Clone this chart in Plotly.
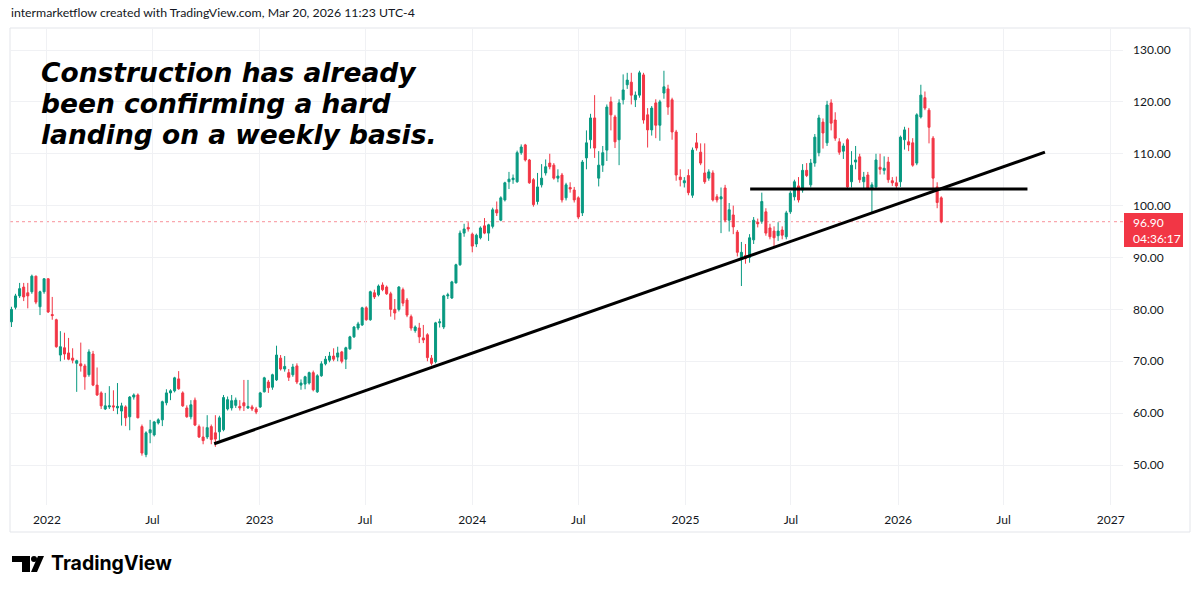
import pandas as pd
import plotly.graph_objects as go

# ---------------- data (weekly candles) ----------------
start_week = "2021-11-01"
n_weeks = 229
opens = [77.6,80.4,82.6,84.3,83.2,83.4,86.4,80.5,83.4,85.9,79.0,78.0,71.2,72.6,71.6,70.6,69.6,69.5,69.1,67.4,
         71.4,65.4,63.9,60.8,61.2,61.4,61.0,60.4,61.2,59.3,63.1,63.5,57.4,52.0,56.2,55.8,58.1,58.7,62.0,63.9,
         64.3,66.6,63.9,61.0,59.3,62.5,57.4,55.4,55.4,57.4,56.2,56.4,56.8,60.8,61.0,61.5,61.3,62.0,61.0,61.2,
         60.8,61.2,64.1,66.0,65.0,66.4,70.6,68.5,67.8,67.4,69.1,65.4,65.6,65.8,67.8,64.1,67.2,69.5,70.2,71.0,
         70.8,71.8,70.4,72.4,74.7,76.4,77.0,80.3,78.0,83.2,82.8,84.7,84.3,83.0,80.0,80.0,83.8,81.8,78.6,75.9,
         76.4,74.5,75.1,70.6,69.9,77.4,76.6,82.6,82.2,85.1,88.6,94.7,95.8,94.5,92.6,93.8,96.1,94.7,96.0,99.2,
         97.2,101.1,104.6,105.0,104.6,110.2,111.7,108.8,105.0,100.8,104.0,106.3,108.2,107.8,105.3,105.9,101.5,103.5,103.0,101.5,
         98.6,109.2,112.7,116.9,105.3,107.8,110.7,120.0,117.1,112.7,120.4,123.3,123.8,120.4,121.3,125.2,117.5,114.6,119.8,115.5,
         121.7,122.5,120.4,114.2,105.5,104.4,105.8,102.0,112.1,110.3,106.3,105.3,106.3,101.7,101.3,103.4,97.2,98.2,94.9,89.6,
         90.4,90.0,93.4,96.8,97.0,98.8,95.7,95.1,94.2,95.3,94.0,98.8,101.7,103.8,103.0,106.8,104.0,108.2,110.2,116.1,
         112.1,119.8,116.5,112.3,110.5,112.7,104.6,108.4,109.4,104.6,105.9,103.4,103.6,107.4,106.8,108.4,104.8,104.4,104.6,112.7,
         112.3,112.1,108.2,117.1,120.8,118.4,113.0,103.6,101.5]
highs = [80.5,83.0,85.1,85.1,85.1,86.7,86.5,83.6,86.0,86.0,82.4,78.2,75.8,75.5,74.5,72.5,70.3,73.6,69.5,72.3,
         72.0,68.8,64.2,63.9,65.2,64.4,65.8,62.0,61.5,63.3,63.8,63.8,57.8,56.5,58.7,58.5,59.0,62.4,64.6,64.6,
         67.0,68.1,64.2,61.5,62.5,63.0,57.8,57.4,59.6,57.8,59.6,59.5,63.5,63.2,63.5,63.0,62.5,66.4,66.4,61.6,
         61.2,64.1,67.0,66.4,67.6,73.0,71.2,71.0,68.5,69.5,69.6,66.5,67.2,68.0,68.2,67.5,70.0,71.0,71.8,72.5,
         72.8,72.0,72.8,74.9,76.8,77.6,80.5,80.6,83.6,83.8,84.8,85.2,84.6,83.4,82.0,84.5,84.2,82.2,79.0,76.9,
         77.4,77.0,75.4,71.2,77.6,78.2,82.8,83.2,85.5,88.8,95.2,96.5,96.8,94.8,94.6,96.0,97.6,96.5,99.6,100.8,
         101.8,104.6,106.5,106.0,110.6,111.8,111.9,109.0,105.3,106.3,108.0,108.9,110.0,108.2,107.0,106.3,104.4,104.5,103.6,101.8,
         108.8,114.5,117.7,121.3,110.5,111.5,119.5,121.0,117.5,120.5,125.3,125.6,125.6,122.0,126.0,125.6,118.8,119.2,120.5,120.4,
         126.0,123.3,120.8,114.6,107.0,105.5,107.0,111.2,114.0,112.0,112.0,107.0,106.8,102.2,103.5,104.0,100.5,100.0,95.3,93.0,
         92.6,94.5,97.8,97.5,102.5,99.5,96.5,96.0,96.8,96.0,99.0,102.8,105.0,105.5,108.0,108.2,109.0,113.8,117.5,116.8,
         120.2,120.5,118.0,113.0,112.0,113.0,110.5,111.5,110.0,106.5,106.5,104.5,110.0,110.0,109.5,109.4,105.5,105.6,113.5,115.2,
         115.0,113.0,117.8,123.3,122.0,118.8,113.4,104.5,101.8]
lows = [76.6,80.0,82.2,81.6,80.2,83.0,81.0,78.9,83.0,79.3,78.0,72.6,70.0,70.3,70.2,69.6,64.1,68.0,64.5,67.0,
        65.2,63.3,60.8,60.6,60.8,60.4,59.8,57.6,57.5,56.7,62.6,59.0,51.8,51.5,54.2,55.5,57.8,57.5,61.5,62.5,
        64.0,64.5,61.2,59.1,58.8,57.5,55.2,54.0,55.0,54.0,53.5,54.8,56.5,60.5,60.5,61.0,60.5,60.4,60.8,60.4,
        59.8,61.0,64.0,63.9,64.5,66.2,68.2,68.0,66.2,67.0,65.6,64.5,64.6,65.5,64.2,63.9,67.0,69.2,69.8,70.0,
        70.0,69.6,68.5,72.2,74.5,76.0,76.8,77.8,77.8,82.0,82.5,83.5,82.8,78.6,78.0,79.6,80.6,78.5,75.9,75.5,
        73.5,73.5,70.0,69.2,69.6,76.5,76.2,82.0,82.0,85.0,88.4,94.0,95.0,91.0,92.0,93.5,94.5,93.2,95.6,98.0,
        97.0,100.8,103.2,104.2,104.4,109.8,108.5,104.2,99.8,100.2,103.5,105.8,107.0,105.0,104.5,100.6,101.0,102.5,100.6,97.4,
        98.0,107.0,111.0,109.2,103.7,106.5,108.6,114.5,111.1,107.8,119.5,122.5,119.5,119.0,120.8,115.8,111.2,113.5,113.0,112.5,
        120.6,117.5,112.7,104.8,103.7,103.5,102.0,101.5,110.6,107.8,104.2,104.8,100.8,100.6,94.7,96.8,95.0,94.5,90.2,84.5,
        88.8,89.0,92.6,95.8,96.5,94.2,93.5,92.0,93.2,93.5,93.5,98.4,101.0,100.6,102.5,105.5,103.5,107.5,109.5,111.0,
        111.5,114.5,112.5,109.8,109.0,103.2,103.5,107.0,104.4,103.2,103.0,98.6,103.2,106.0,106.0,104.4,103.8,103.2,103.6,110.8,
        110.5,107.5,107.8,116.8,118.4,112.0,103.0,99.5,96.6]
closes = [80.0,82.6,84.0,82.4,82.6,86.4,81.4,83.4,85.9,79.5,78.8,72.8,72.8,71.4,70.4,70.2,70.1,69.1,67.0,71.8,
          65.4,63.5,61.4,61.4,61.4,61.2,61.3,61.4,59.1,63.1,63.5,59.1,52.3,56.2,56.8,58.3,58.7,62.2,63.9,64.3,
          66.8,64.7,61.4,59.3,61.6,57.7,55.4,54.7,57.2,54.9,55.0,59.1,63.0,62.6,62.4,62.5,61.0,61.4,61.3,60.8,
          60.2,63.9,66.8,64.9,67.4,71.2,68.5,69.0,66.9,68.9,66.0,65.8,67.0,67.8,64.5,67.2,69.5,70.4,71.0,70.4,
          71.6,70.0,72.6,74.7,76.6,77.2,80.3,78.0,83.4,82.4,84.5,83.8,83.0,80.0,79.3,84.3,81.2,78.9,76.4,76.6,
          74.7,74.1,70.7,69.6,77.4,77.6,82.6,82.8,85.3,88.6,94.7,95.5,95.5,92.2,94.3,95.7,94.7,96.3,99.2,98.6,
          101.5,104.4,105.1,105.3,110.2,111.3,108.8,104.4,100.2,103.6,105.3,107.5,107.5,105.3,105.7,101.1,104.0,103.2,101.1,97.8,
          108.4,112.1,116.9,111.1,107.8,110.2,119.0,117.5,112.3,119.8,122.3,124.2,121.3,121.3,125.6,116.5,114.6,118.8,115.5,120.0,
          122.9,119.0,114.2,105.9,105.0,104.8,102.5,110.7,111.1,108.2,104.6,106.5,101.1,101.1,101.7,97.2,99.2,95.9,91.0,91.0,
          89.8,93.8,97.2,96.5,100.8,94.7,94.0,93.8,95.1,94.3,98.6,102.4,104.6,101.1,106.8,105.8,108.2,113.2,116.9,114.0,
          119.4,115.9,113.0,110.3,111.5,103.6,107.8,108.8,105.0,105.5,103.4,104.0,108.8,107.0,107.2,105.0,104.4,103.8,113.2,114.6,
          111.7,107.8,117.5,121.3,118.8,115.1,105.3,100.6,96.9]

# drawn lines (trend line and neckline)
trend_dates = ["2022-10-15", "2026-09-10"]
trend_prices = [54.1, 110.3]
neck_dates = ["2025-04-22", "2026-08-11"]
neck_price = 103.2
last_price_text = "96.90"
countdown_text = "04:36:17"

x_tickvals = ["2022-01-01", "2022-07-01", "2023-01-01", "2023-07-01", "2024-01-01", "2024-07-01",
              "2025-01-01", "2025-07-01", "2026-01-01", "2026-07-01", "2027-01-01"]
x_ticktext = ["2022", "Jul", "2023", "Jul", "2024", "Jul", "2025", "Jul", "2026", "Jul", "2027"]
y_tickvals = [50, 60, 70, 80, 90, 100, 110, 120, 130]

title_lines = ["Construction has already", "been confirming a hard", "landing on a weekly basis."]
header_text = "intermarketflow created with TradingView.com, Mar 20, 2026 11:23 UTC-4"

# ---------------- figure ----------------
dates = pd.date_range(start_week, periods=n_weeks, freq="7D")
highs = [max(h, o, c) for h, o, c in zip(highs, opens, closes)]
lows = [min(l, o, c) for l, o, c in zip(lows, opens, closes)]

UP = "#089981"
DOWN = "#F23645"
TXT = "#131722"
FONT = "Lato, 'Open Sans', sans-serif"

W, H = 1200, 593
L, R, T, B = 10, 77, 28, 88
PW, PH = W - L - R, H - T - B


def px(xp):
    return (xp - L) / PW


def py(yp):
    return (H - B - yp) / PH


fig = go.Figure()
fig.add_trace(go.Candlestick(
    x=dates, open=opens, high=highs, low=lows, close=closes,
    increasing=dict(line=dict(color=UP, width=1), fillcolor=UP),
    decreasing=dict(line=dict(color=DOWN, width=1), fillcolor=DOWN),
    whiskerwidth=0, showlegend=False, hoverinfo="skip",
))

shapes = []
# last price dotted line
shapes.append(dict(type="line", xref="paper", yref="y", x0=0, x1=1, y0=closes[-1], y1=closes[-1],
                   line=dict(color="rgba(242,54,69,0.55)", width=1, dash="dot"), layer="below"))
# trend line
shapes.append(dict(type="line", xref="x", yref="y", x0=trend_dates[0], x1=trend_dates[1],
                   y0=trend_prices[0], y1=trend_prices[1], line=dict(color="black", width=3)))
# neckline
shapes.append(dict(type="line", xref="x", yref="y", x0=neck_dates[0], x1=neck_dates[1],
                   y0=neck_price, y1=neck_price, line=dict(color="black", width=3)))
# outer chart frame
shapes.append(dict(type="rect", xref="paper", yref="paper", x0=px(10), x1=px(1190), y0=py(28), y1=py(532),
                   line=dict(color="#e3e5ea", width=1), fillcolor="rgba(0,0,0,0)", layer="below"))
# price tag
shapes.append(dict(type="rect", xref="paper", yref="paper", x0=px(1124), x1=px(1183), y0=py(213), y1=py(247),
                   line=dict(width=0), fillcolor=DOWN))
# TradingView logo icon
shapes.append(dict(type="rect", xref="paper", yref="paper", x0=px(12), x1=px(30), y0=py(562), y1=py(556),
                   line=dict(width=0), fillcolor="#000"))
shapes.append(dict(type="rect", xref="paper", yref="paper", x0=px(22), x1=px(30), y0=py(572), y1=py(556),
                   line=dict(width=0), fillcolor="#000"))
shapes.append(dict(type="circle", xref="paper", yref="paper", x0=px(31), x1=px(37), y0=py(562), y1=py(556),
                   line=dict(width=0), fillcolor="#000"))
path = "M {:.5f},{:.5f} L {:.5f},{:.5f} L {:.5f},{:.5f} L {:.5f},{:.5f} Z".format(
    px(31), py(572), px(37), py(572), px(44), py(556), px(38), py(556))
shapes.append(dict(type="path", xref="paper", yref="paper", path=path, line=dict(width=0), fillcolor="#000"))

annotations = []
annotations.append(dict(text=header_text, xref="paper", yref="paper", x=px(9), y=py(12),
                        xanchor="left", yanchor="middle", showarrow=False,
                        font=dict(family=FONT, size=12.3, color=TXT)))
# one annotation for the three title lines; base size sets the line pitch, span sets glyph size
title_html = "<br>".join('<span style="font-size:26.5px"><b><i>' + s + '</i></b></span>' for s in title_lines)
annotations.append(dict(text=title_html, xref="paper", yref="paper", align="left",
                        x=px(39), y=py(55), xanchor="left", yanchor="top", showarrow=False,
                        font=dict(family="'DejaVu Sans', sans-serif", size=23.85, color="#000")))
annotations.append(dict(text=last_price_text, xref="paper", yref="paper", x=px(1131), y=py(222),
                        xanchor="left", yanchor="middle", showarrow=False,
                        font=dict(family=FONT, size=12, color="white")))
annotations.append(dict(text=countdown_text, xref="paper", yref="paper", x=px(1131), y=py(238),
                        xanchor="left", yanchor="middle", showarrow=False,
                        font=dict(family=FONT, size=12, color="white")))
annotations.append(dict(text="<b>TradingView</b>", xref="paper", yref="paper", x=px(49), y=py(563),
                        xanchor="left", yanchor="middle", showarrow=False,
                        font=dict(family="Inter, Lato, sans-serif", size=19.5, color="#000")))

fig.update_layout(
    width=W, height=H, margin=dict(l=L, r=R, t=T, b=B),
    paper_bgcolor="white", plot_bgcolor="white",
    shapes=shapes, annotations=annotations, showlegend=False,
    xaxis=dict(type="date", range=["2021-10-29 12:00", "2027-01-22"], rangeslider=dict(visible=False),
               tickmode="array", tickvals=x_tickvals, ticktext=x_ticktext,
               showgrid=True, gridcolor="#f0f1f4", gridwidth=1, zeroline=False, showline=False,
               ticks="", ticklabelstandoff=6, tickfont=dict(family=FONT, size=12, color=TXT)),
    yaxis=dict(side="right", range=[42.29, 134.24], tickmode="array", tickvals=y_tickvals,
               tickformat=".2f", showgrid=True, gridcolor="#f0f1f4", gridwidth=1, zeroline=False,
               showline=False, ticks="", ticklabelstandoff=9,
               tickfont=dict(family=FONT, size=12, color=TXT)),
)

fig.write_html("out.html")
